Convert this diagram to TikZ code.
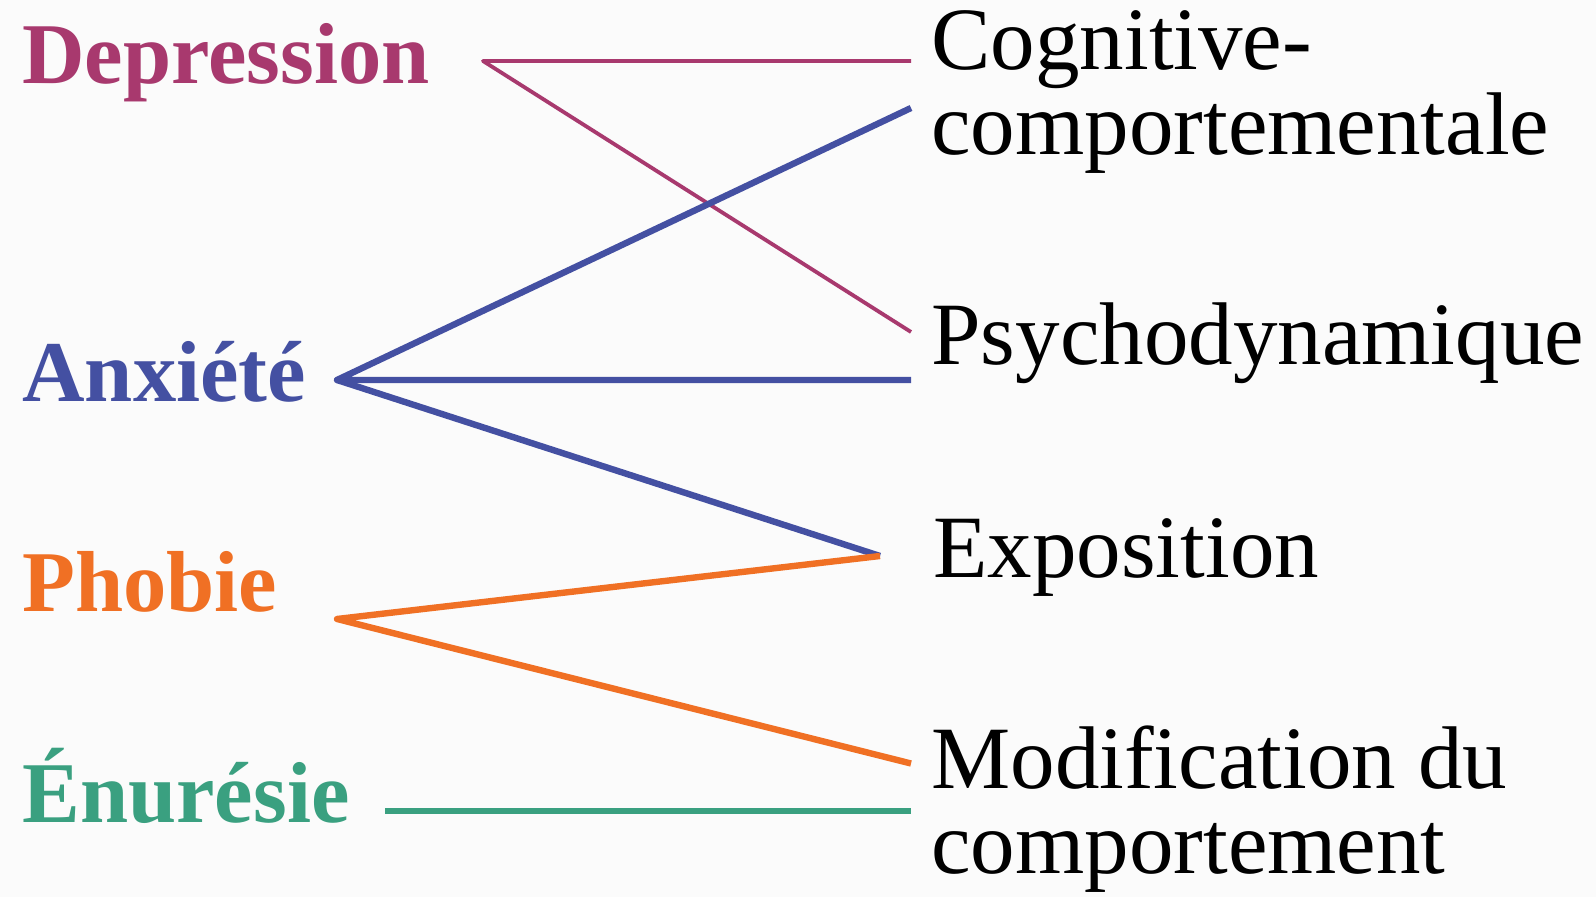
\documentclass[tikz,border=0pt]{standalone}
\usepackage{fontspec}
\setmainfont{Liberation Serif}
\definecolor{bgc}{RGB}{251,251,251}
\definecolor{cdep}{RGB}{168,57,110}
\definecolor{canx}{RGB}{68,80,162}
\definecolor{cpho}{RGB}{240,112,36}
\definecolor{cenu}{RGB}{58,160,128}
\tikzset{
  lefttxt/.style={anchor=base west,inner sep=0pt,font=\fontsize{43.3}{46}\selectfont\bfseries},
  righttxt/.style={anchor=base west,inner sep=0pt,align=left,font=\fontsize{44.5}{42.5}\selectfont},
  link/.style={line width=3.2pt,line cap=butt,line join=round},
}
\begin{document}
\begin{tikzpicture}[x=0.5pt,y=-0.5pt]
\fill[bgc] (0,0) rectangle (1596,897);
\useasboundingbox (0,0) rectangle (1596,897);
% left labels
\node[lefttxt,text=cdep] (dep) at (22,83.5) {Depression};
\node[lefttxt,text=canx] (anx) at (22,402) {Anxiété};
\node[lefttxt,text=cpho] (pho) at (22,612) {Phobie};
\node[lefttxt,text=cenu] (enu) at (22,822.5) {Énurésie};
% right labels (anchored at the baseline of their last line)
\node[righttxt] (cog) at (931,155) {Cognitive-\\comportementale};
\node[righttxt] (psy) at (931,364.5) {Psychodynamique};
\node[righttxt] (exp) at (933,578) {Exposition};
\node[righttxt] (mod) at (931,873) {Modification du\\comportement};
% connection points
\coordinate (depP) at (483,61);
\coordinate (anxP) at (337,380);
\coordinate (phoP) at (337,619);
\coordinate (enuP) at (385,811);
\coordinate (cogA) at (911,61);
\coordinate (cogB) at (911,108);
\coordinate (psyA) at (911,332);
\coordinate (psyB) at (911,380);
\coordinate (expA) at (880,556);
\coordinate (modA) at (911,763.5);
\coordinate (modB) at (911,811);
% connectors
\draw[link,cdep,line width=1.9pt] (cogA) -- (depP) -- (psyA);
\draw[link,canx] (cogB) -- (anxP) -- (psyB);
\draw[link,canx] (anxP) -- (expA);
\draw[link,cpho] (expA) -- (phoP) -- (modA);
\draw[link,cenu] (enuP) -- (modB);
\end{tikzpicture}
\end{document}
